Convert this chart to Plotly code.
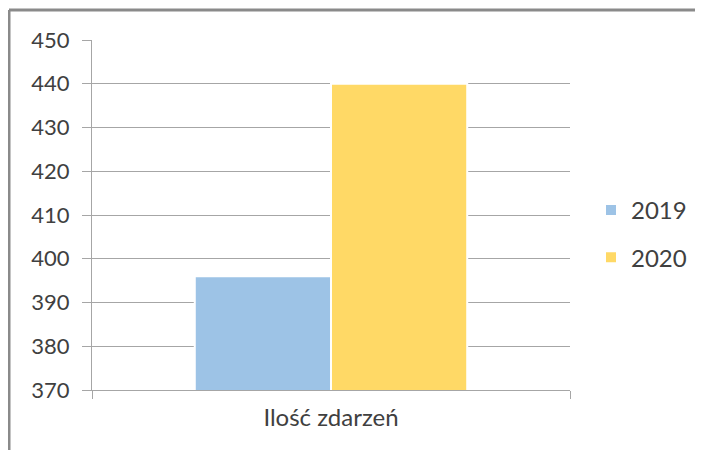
import plotly.graph_objects as go

categories = ["Ilość zdarzeń"]
series_names = ["2019", "2020"]
values_2019 = [396]
values_2020 = [440]
colors = ["#9DC3E6", "#FFD966"]

# the page body adds an 8px offset; positions below are in figure coordinates
W, H = 703, 450
L, R, T, B = 84, 141, 32, 68
pw, ph = W - L - R, H - T - B

fig = go.Figure()
for name, vals, c in zip(series_names, [values_2019, values_2020], colors):
    fig.add_trace(go.Bar(
        x=categories, y=vals, name=name, legendgroup=name,
        marker=dict(color=c, line=dict(color="white", width=2)),
    ))

font = dict(family="Lato, 'Open Sans', sans-serif", size=20, color="#404040")

bx0, bx1 = (1 - L) / pw, (760 - L) / pw
by0, by1 = (H - B - 500) / ph, (H - B - 2) / ph

fig.update_layout(
    width=W, height=H, autosize=False,
    margin=dict(l=L, r=R, t=T, b=B, autoexpand=False),
    paper_bgcolor="white", plot_bgcolor="white",
    barmode="group", bargap=0.43, bargroupgap=0.0,
    font=font,
    showlegend=True,
    legend=dict(x=(583 - L) / pw, y=(H - B - 226) / ph, xanchor="left", yanchor="middle",
                font=dict(size=24, color="#404040"), itemsizing="constant",
                traceorder="grouped", tracegroupgap=13, bgcolor="rgba(0,0,0,0)"),
    xaxis=dict(
        type="category", range=[-0.5, 0.5], tickson="boundaries",
        ticks="outside", ticklen=8, tickcolor="#a6a6a6", tickwidth=1,
        showline=True, linecolor="#a6a6a6", linewidth=1,
        showgrid=False, tickfont=dict(size=24, color="#404040"),
        ticklabelstandoff=6,
    ),
    yaxis=dict(
        range=[370, 450], dtick=10, tick0=370,
        ticks="outside", ticklen=9, tickcolor="#a6a6a6", tickwidth=1,
        showline=True, linecolor="#a6a6a6", linewidth=1,
        showgrid=True, gridcolor="#a6a6a6", gridwidth=1,
        zeroline=False, tickfont=dict(size=22, color="#404040"),
        ticklabelstandoff=8,
    ),
    shapes=[
        dict(type="line", xref="paper", yref="paper", x0=bx0, x1=bx1, y0=by1, y1=by1,
             line=dict(color="#8a8a8a", width=3), layer="above"),
        dict(type="line", xref="paper", yref="paper", x0=bx0, x1=bx0, y0=by0, y1=by1,
             line=dict(color="#8a8a8a", width=3), layer="above"),
    ],
)

fig.write_html(
    "out.html",
    post_script="document.documentElement.style.overflow='hidden';document.body.style.overflow='hidden';",
)
